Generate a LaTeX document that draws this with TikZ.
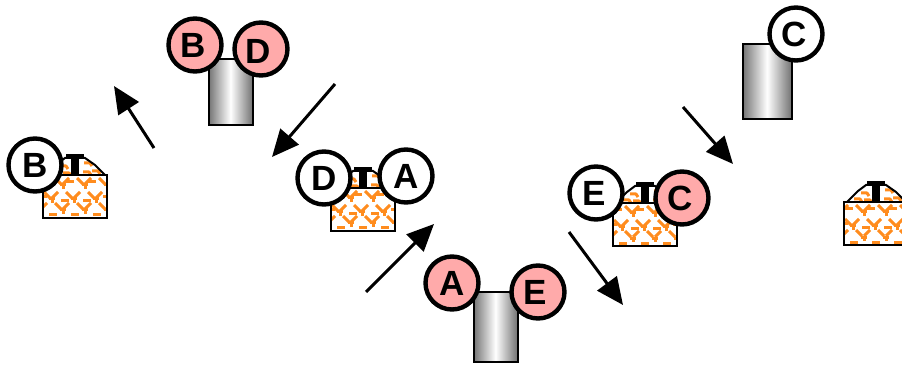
\documentclass[tikz,border=0pt]{standalone}
\usepackage{fontspec}
\setmainfont{Liberation Sans}
\usetikzlibrary{arrows.meta}
\definecolor{brick}{RGB}{255,140,30}
\definecolor{pinkfill}{RGB}{255,170,170}
\tikzset{
  tok/.style={circle,draw=black,line width=4.4pt,minimum size=53pt,inner sep=0pt,font=\bfseries\fontsize{35}{35}\selectfont},
  wtok/.style={tok,fill=white},
  ptok/.style={tok,fill=pinkfill},
  flow/.style={-{Triangle[length=27pt,width=24pt]},line width=3pt,black},
  cyl/.style={draw=black,line width=2pt,minimum width=#1,anchor=north west,inner sep=0pt,left color=gray!110,right color=gray!110,middle color=white},
  brk/.style={brick,line width=3pt,line join=bevel},
  pics/hut/.style={code={
    \fill[white] (4,0) -- (9,-6) -- (14,-11) -- (22,-17) -- (42,-17) -- (52,-10) -- (57,-5) -- (61,0) -- cycle;
    \begin{scope}
      \clip (4,0) -- (9,-6) -- (14,-11) -- (22,-17) -- (42,-17) -- (52,-10) -- (57,-5) -- (61,0) -- cycle;
      \foreach \px/\py in {10/-3,17/-9,20/-2,41/-12,40/-3,49/-4}
        \draw[brk] (\px,\py) -- ++(6,0) -- ++(2,3);
    \end{scope}
    \draw[black,line width=2pt] (3,0) -- (9,-6) -- (14,-11) -- (22,-17) -- (42,-17) -- (52,-10) -- (57,-5) -- (62,0);
    \fill[black] (23,-21) rectangle (41,-16);
    \fill[black] (28,-17) rectangle (36,0);
    \fill[white] (0,0) rectangle (64,43);
    \begin{scope}
      \clip (0,0) rectangle (64,43);
      \foreach \px/\py in {-10/3,12/3,34/3,56/3,1/17,23/17,45/17,-10/28,12/28,34/28,56/28}{
        \draw[brk] (\px,\py) -- ++(6,6) (\px+14,\py) -- ++(-6,6);
        \draw[brk] (\px+5,\py+7) -- ++(6,0);
        \draw[brk] (\px+8,\py+7) -- ++(0,4);
      }
      \foreach \px/\py in {1/7,23/7,45/7,-4/22,18/26,40/26,60/22,6/40,28/40,50/40}
        \draw[brk] (\px,\py) -- ++(8,0);
    \end{scope}
    \draw[black,line width=2.2pt] (0,0) rectangle (64,43);
  }}
}
\begin{document}
\begin{tikzpicture}[x=1pt,y=-1pt]
\useasboundingbox (0,0) rectangle (902,366);
\pic at (43,175) {hut};
\pic at (331,188) {hut};
\pic at (613,203) {hut};
\pic at (844,202) {hut};
\node[cyl=44pt,minimum height=66pt] (cyla) at (207.5,58) {};
\node[cyl=44pt,minimum height=70pt] (cylb) at (472.5,291) {};
\node[cyl=49pt,minimum height=75pt] (cylc) at (741.5,43) {};
\node[wtok] (b1) at (35,165) {B};
\node[ptok] (b2) at (195,45) {\kern-3pt B};
\node[ptok,text height=30pt,text depth=0pt] (d2) at (261,49) {\kern-6pt D};
\node[wtok] (d1) at (324,178) {D};
\node[wtok] (a1) at (406,176) {A};
\node[ptok] (a2) at (452,283) {A};
\node[ptok] (e2) at (538,292) {\kern-6pt E};
\node[wtok] (e1) at (596,193) {\kern-3pt E};
\node[ptok] (c2) at (682,198) {\kern-3pt C};
\node[wtok] (c1) at (796,34) {\kern-3pt C};
\coordinate (p1s) at (154,148); \coordinate (p1e) at (114,86);
\coordinate (p2s) at (335,84);  \coordinate (p2e) at (272,157);
\coordinate (p3s) at (366,292); \coordinate (p3e) at (434,224);
\coordinate (p4s) at (569,232); \coordinate (p4e) at (623,305);
\coordinate (p5s) at (683,107); \coordinate (p5e) at (733,164);
\draw[flow] (p1s) -- (p1e);
\draw[flow] (p2s) -- (p2e);
\draw[flow] (p3s) -- (p3e);
\draw[flow] (p4s) -- (p4e);
\draw[flow] (p5s) -- (p5e);
\end{tikzpicture}
\end{document}
